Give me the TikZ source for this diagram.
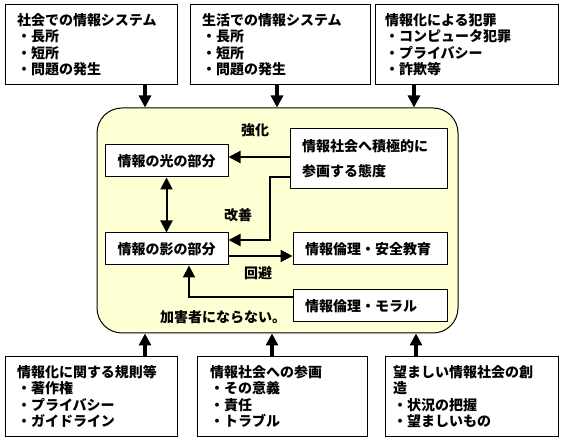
\documentclass[tikz,border=0pt]{standalone}
\usepackage{fontspec}
\setmainfont{Noto Sans CJK JP}
\usetikzlibrary{arrows.meta}
\definecolor{paleyellow}{RGB}{255,255,212}
\tikzset{
  jpf/.style={font=\bfseries\fontsize{14}{16.5}\selectfont},
  box/.style={jpf, draw=black, line width=1pt, fill=white, align=left, inner ysep=0pt, minimum height=80pt},
  ibox/.style={jpf, draw=black, line width=1pt, fill=white, inner ysep=0pt, minimum height=32pt},
  lbl/.style={jpf, inner sep=0pt},
  arr/.style={line width=3.5pt, -{Triangle[width=12pt,length=12pt]}},
  iarr/.style={line width=2pt, -{Triangle[width=12pt,length=12pt]}},
  darr/.style={line width=2pt, {Triangle[width=12pt,length=12pt]}-{Triangle[width=12pt,length=12pt]}},
}
\begin{document}
\begin{tikzpicture}[x=1pt,y=-1pt]
\fill[white] (0,0) rectangle (563,446);
\useasboundingbox (0,0) rectangle (563,446);

% top boxes
\node[box, inner xsep=12pt, text width=148pt] (t1) at (91,44.5) {社会での情報システム\\・長所\\・短所\\・問題の発生};
\node[box, inner xsep=12pt, text width=156pt] (t2) at (280,44.5) {生活での情報システム\\・長所\\・短所\\・問題の発生};
\node[box, inner xsep=10pt, text width=163pt] (t3) at (466.5,44.5) {情報化による犯罪\\・コンピュータ犯罪\\・プライバシー\\・詐欺等};

% bottom boxes
\node[box, inner xsep=12pt, text width=148pt] (b1) at (91,396.5) {情報化に関する規則等\\・著作権\\・プライバシー\\・ガイドライン};
\node[box, inner xsep=13pt, text width=144pt] (b2) at (282,396.5) {情報社会への参画\\・その意義\\・責任\\・トラブル};
\node[box, inner xsep=8pt, text width=157pt] (b3) at (471.5,396.5) {望ましい情報社会の創\\造\\・状況の把握\\・望ましいもの};

% central rounded region
\node[draw=black, line width=1pt, fill=paleyellow, rounded corners=25pt, minimum width=361pt, minimum height=225pt, inner sep=0pt] (outer) at (277.5,220.5) {};

% inner boxes
\node[ibox, minimum width=123pt] (L) at (166.5,161) {情報の光の部分};
\node[ibox, minimum width=123pt] (S) at (166.5,249) {情報の影の部分};
\node[ibox, minimum width=157pt, minimum height=60pt, text width=133pt, inner xsep=12pt, align=left, font=\bfseries\fontsize{14}{25}\selectfont] (A) at (368.5,159) {情報社会へ積極的に\\参画する態度};
\node[ibox, minimum width=154pt, text width=130pt, inner xsep=12pt, align=left] (E) at (370,249) {情報倫理・安全教育};
\node[ibox, minimum width=154pt, text width=130pt, inner xsep=12pt, align=left] (M) at (370,306) {情報倫理・モラル};

% labels
\node[lbl] (k1) at (255,130) {強化};
\node[lbl] (k2) at (238,215) {改善};
\node[lbl] (k3) at (258,273) {回避};
\node[lbl, anchor=west] (k4) at (160,317) {加害者にならない。};

% arrow columns
\coordinate (ct1) at (145,0);
\coordinate (ct2) at (277,0);
\coordinate (ct3) at (414,0);
\coordinate (cb1) at (145,0);
\coordinate (cb2) at (272,0);
\coordinate (cb3) at (416,0);

\draw[arr] (t1.south -| ct1) -- (outer.north -| ct1);
\draw[arr] (t2.south -| ct2) -- (outer.north -| ct2);
\draw[arr] (t3.south -| ct3) -- (outer.north -| ct3);
\draw[arr] (b1.north -| cb1) -- (outer.south -| cb1);
\draw[arr] (b2.north -| cb2) -- (outer.south -| cb2);
\draw[arr] (b3.north -| cb3) -- (outer.south -| cb3);

% inner connectors
\coordinate (y1) at (0,157);
\coordinate (j1) at (270,177);
\coordinate (j2) at (270,240);
\coordinate (y3) at (0,256);
\coordinate (j3) at (189,297);

\draw[darr] (L.south) -- (S.north);
\draw[iarr] (A.west |- y1) -- (L.east |- y1);
\draw[iarr] (A.west |- j1) -| (j2) -- (S.east |- j2);
\draw[iarr] (S.east |- y3) -- (E.west |- y3);
\draw[iarr] (M.west |- j3) -| (S.south -| j3);
\end{tikzpicture}
\end{document}
